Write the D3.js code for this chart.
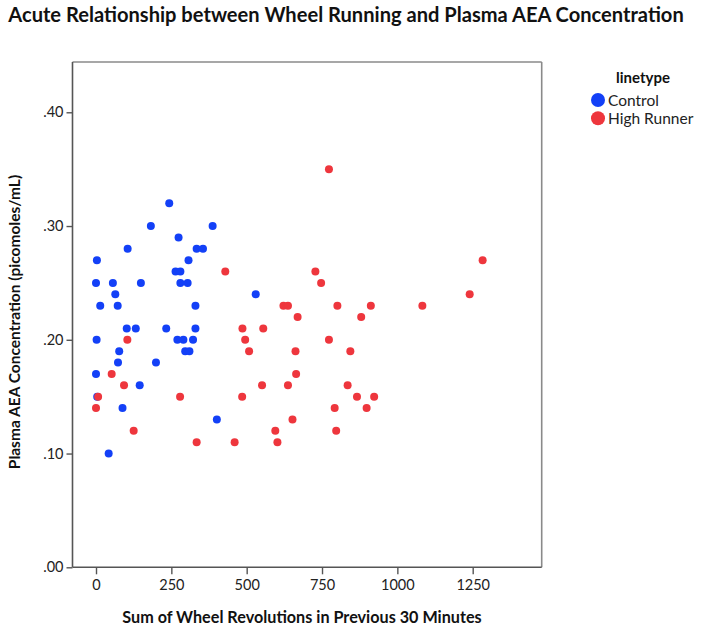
<!DOCTYPE html>
<html><head><meta charset="utf-8">
<script src="https://cdn.jsdelivr.net/npm/d3@7"></script>
<style>body{margin:0;background:#fff}svg{display:block}</style>
</head><body>
<svg id="chart" width="704" height="631"></svg>
<script>
const titleText = "Acute Relationship between Wheel Running and Plasma AEA Concentration";
const xTitle = "Sum of Wheel Revolutions in Previous 30 Minutes";
const yTitle = "Plasma AEA Concentration (picomoles/mL)";
const legendTitle = "linetype";
const groups = ["Control", "High Runner"];
const xTicks = [0, 250, 500, 750, 1000, 1250];
const yTicks = [0, 0.1, 0.2, 0.3, 0.4];
const yTickLabels = [".00", ".10", ".20", ".30", ".40"];

const controlX = [243,182,387,274,105,334,355,3,307,264,280,0,56,149,280,304,64,530,14,72,330,102,132,233,330,2,270,290,322,77,296,310,73,199,0,145,4,88,401,42];
const controlY = [.32,.30,.30,.29,.28,.28,.28,.27,.27,.26,.26,.25,.25,.25,.25,.25,.24,.24,.23,.23,.23,.21,.21,.21,.21,.20,.20,.20,.20,.19,.19,.19,.18,.18,.17,.16,.15,.14,.13,.10];
const runnerX = [7,0,52,93,104,125,279,334,429,460,486,485,495,508,555,551,595,602,622,637,637,652,662,664,669,728,747,773,773,792,797,801,835,844,866,880,898,912,923,1083,1240,1283];
const runnerY = [.15,.14,.17,.16,.20,.12,.15,.11,.26,.11,.21,.15,.20,.19,.21,.16,.12,.11,.23,.23,.16,.13,.19,.17,.22,.26,.25,.35,.20,.14,.12,.23,.16,.19,.15,.22,.14,.23,.15,.23,.24,.27];

const colors = ["#1340f7", "#ee363d"];
const font = "Lato, 'Open Sans', sans-serif";

const svg = d3.select("#chart");
const L = 72.5, R = 541.7, T = 62, B = 567.3;
const x = d3.scaleLinear().domain([-78, 1479]).range([L, R]);
const y = d3.scaleLinear().domain([0, 0.4442]).range([B, T]);

// frame
svg.append("line").attr("x1", L).attr("x2", R).attr("y1", T).attr("y2", T).attr("stroke", "#8a8a8a").attr("stroke-width", 1.6);
svg.append("line").attr("x1", R).attr("x2", R).attr("y1", T).attr("y2", B).attr("stroke", "#8a8a8a").attr("stroke-width", 1.6);

const xAxis = svg.append("g").attr("transform", `translate(0,${B})`)
  .call(d3.axisBottom(x).tickValues(xTicks).tickSize(7).tickPadding(5).tickFormat(d3.format("d")));
const yAxis = svg.append("g").attr("transform", `translate(${L},0)`)
  .call(d3.axisLeft(y).tickValues(yTicks).tickSize(6).tickPadding(3).tickFormat((d, i) => yTickLabels[i]));
xAxis.select(".domain").attr("d", `M${L},0H${R}`);
yAxis.select(".domain").attr("d", `M0,${T}V${B}`);
[xAxis, yAxis].forEach(a => {
  a.select(".domain").attr("stroke", "#555").attr("stroke-width", 1.6);
  a.selectAll(".tick line").attr("stroke", "#555").attr("stroke-width", 1.4);
  a.selectAll(".tick text").attr("font-family", font).attr("font-size", 14.5).attr("fill", "#222");
});

// points
const sets = [
  controlX.map((v, i) => ({x: v, y: controlY[i], g: 0})),
  runnerX.map((v, i) => ({x: v, y: runnerY[i], g: 1}))
];
sets.forEach(s => {
  svg.append("g").selectAll("circle").data(s).join("circle")
    .attr("cx", d => x(d.x)).attr("cy", d => y(d.y)).attr("r", 4)
    .attr("fill", d => colors[d.g]);
});

// titles
svg.append("text").attr("x", 346).attr("y", 22).attr("text-anchor", "middle")
  .attr("font-family", font).attr("font-weight", "bold").attr("font-size", 20.1).attr("fill", "#111").text(titleText);
svg.append("text").attr("x", 302).attr("y", 623).attr("text-anchor", "middle")
  .attr("font-family", font).attr("font-weight", "bold").attr("font-size", 16.2).attr("fill", "#111").text(xTitle);
svg.append("text").attr("transform", "translate(20,322) rotate(-90)").attr("text-anchor", "middle")
  .attr("font-family", font).attr("font-weight", "bold").attr("font-size", 15.5).attr("fill", "#111").text(yTitle);

// legend
const lg = svg.append("g");
lg.append("text").attr("x", 643).attr("y", 83).attr("text-anchor", "middle")
  .attr("font-family", font).attr("font-weight", "bold").attr("font-size", 15).attr("fill", "#111").text(legendTitle);
groups.forEach((g, i) => {
  lg.append("circle").attr("cx", 598).attr("cy", 100 + i * 18.3).attr("r", 7).attr("fill", colors[i]);
  lg.append("text").attr("x", 608).attr("y", 105.5 + i * 18.3)
    .attr("font-family", font).attr("font-size", 15.5).attr("fill", "#222").text(g);
});
</script>
</body></html>
